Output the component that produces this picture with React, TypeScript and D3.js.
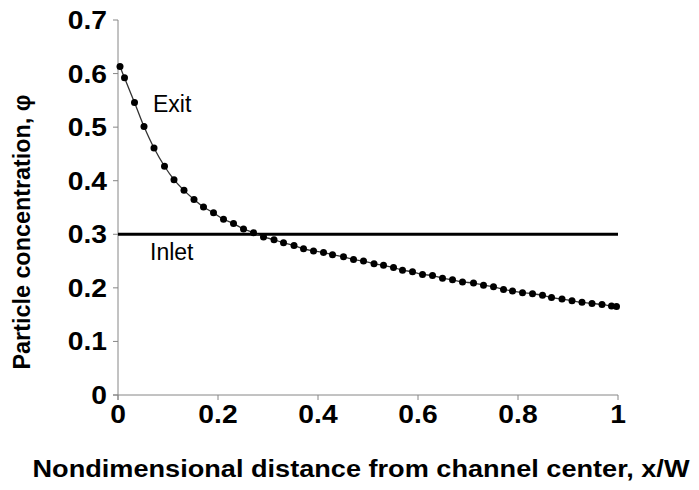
import { useEffect } from 'react';
import * as d3 from 'd3';

// exit profile (x/W, phi)
const exitX = [
    0.004, 0.013, 0.033, 0.052, 0.072, 0.093, 0.112, 0.132, 0.152, 0.171,
    0.191, 0.211, 0.231, 0.251, 0.271, 0.291, 0.312, 0.331, 0.352, 0.371,
    0.391, 0.411, 0.429, 0.451, 0.471, 0.491, 0.512, 0.531, 0.551, 0.569,
    0.589, 0.609, 0.629, 0.649, 0.669, 0.689, 0.711, 0.731, 0.751, 0.771,
    0.789, 0.809, 0.829, 0.849, 0.867, 0.888, 0.908, 0.928, 0.948, 0.968,
    0.987, 0.997
];
const exitPhi = [
    0.613, 0.592, 0.546, 0.501, 0.461, 0.427, 0.402, 0.382, 0.365, 0.351,
    0.340, 0.328, 0.320, 0.310, 0.303, 0.295, 0.290, 0.284, 0.279, 0.273,
    0.269, 0.266, 0.262, 0.258, 0.253, 0.250, 0.245, 0.242, 0.238, 0.233,
    0.230, 0.225, 0.223, 0.218, 0.215, 0.211, 0.209, 0.205, 0.202, 0.197,
    0.194, 0.191, 0.189, 0.186, 0.182, 0.179, 0.176, 0.173, 0.171, 0.169,
    0.166, 0.165
];
const inletX = [0, 1];
const inletPhi = [0.3, 0.3];

const xTicks = [0, 0.2, 0.4, 0.6, 0.8, 1];
const yTicks = [0, 0.1, 0.2, 0.3, 0.4, 0.5, 0.6, 0.7];

const W = 699;
const H = 490;
const margin = { left: 118, right: 81, top: 20, bottom: 95 };
const axisColor = '#868686';
const font = '"Liberation Sans", Arial, sans-serif';

export default function App() {
    useEffect(() => {
        document.body.style.margin = '0';
    }, []);

    const x = d3.scaleLinear().domain([0, 1]).range([margin.left, W - margin.right]);
    const y = d3.scaleLinear().domain([0, 0.7]).range([H - margin.bottom, margin.top]);

    const exitData = exitX.map((v, i) => [v, exitPhi[i]] as [number, number]);
    const inletData = inletX.map((v, i) => [v, inletPhi[i]] as [number, number]);

    const line = d3.line<[number, number]>()
        .x(d => x(d[0]))
        .y(d => y(d[1]))
        .curve(d3.curveCatmullRom);
    const straight = d3.line<[number, number]>().x(d => x(d[0])).y(d => y(d[1]));

    const x0 = x(0);
    const y0 = y(0);
    const fmt = d3.format('');

    return (
        <svg width={W} height={H} style={{ display: 'block', background: '#fff' }} fontFamily={font}>
            {/* axes */}
            <line x1={x0} x2={x0} y1={y(0.7)} y2={y0 + 5} stroke={axisColor} strokeWidth={1} />
            <line x1={x0 - 5} x2={x(1)} y1={y0} y2={y0} stroke={axisColor} strokeWidth={1} />
            {yTicks.map(t => (
                <g key={'y' + t}>
                    <line x1={x0 - 5} x2={x0} y1={y(t)} y2={y(t)} stroke={axisColor} />
                    <text transform={`translate(${x0 - 11},${y(t)}) scale(1.13,1)`} dy="0.36em" textAnchor="end"
                        fontSize={25} fontWeight="bold" fill="#000">
                        {fmt(t)}
                    </text>
                </g>
            ))}
            {xTicks.map(t => (
                <g key={'x' + t}>
                    <line x1={x(t)} x2={x(t)} y1={y0} y2={y0 + 5} stroke={axisColor} />
                    <text transform={`translate(${x(t)},${y0 + 28}) scale(1.13,1)`} textAnchor="middle"
                        fontSize={25} fontWeight="bold" fill="#000">
                        {fmt(t)}
                    </text>
                </g>
            ))}

            {/* inlet line */}
            <path d={straight(inletData) || ''} fill="none" stroke="#000" strokeWidth={3} />

            {/* exit curve */}
            <path d={line(exitData) || ''} fill="none" stroke="#333" strokeWidth={1.3} />
            {exitData.map((d, i) => (
                <circle key={i} cx={x(d[0])} cy={y(d[1])} r={3.5} fill="#000" />
            ))}

            <text x={153} y={112} fontSize={23} fill="#000">Exit</text>
            <text x={150} y={260} fontSize={23} fill="#000">Inlet</text>

            {/* axis titles */}
            <text transform={`translate(30, 232) rotate(-90)`} textAnchor="middle"
                fontSize={23} fontWeight="bold" fill="#000"
                textLength={275} lengthAdjust="spacingAndGlyphs">
                Particle concentration, φ
            </text>
            <text x={361} y={477} textAnchor="middle" fontSize={23} fontWeight="bold" fill="#000"
                textLength={657} lengthAdjust="spacingAndGlyphs">
                Nondimensional distance from channel center, x/W
            </text>
        </svg>
    );
}
